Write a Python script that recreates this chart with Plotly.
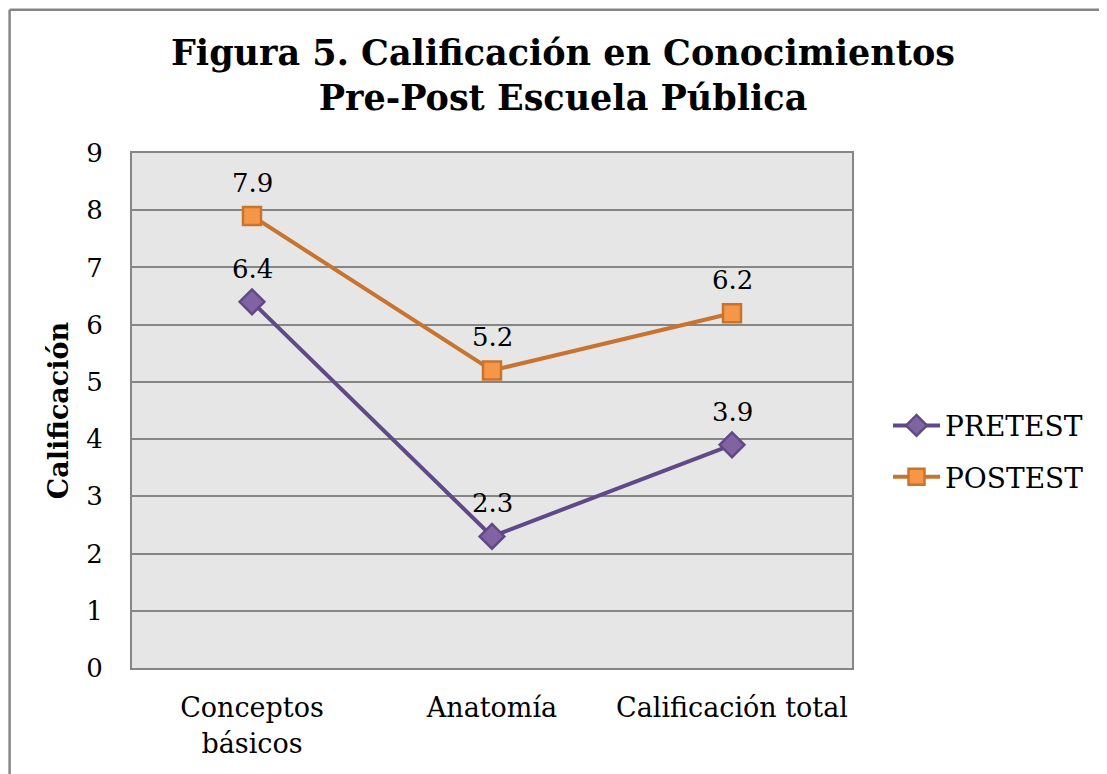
import plotly.graph_objects as go

# categories and scores
categorias = ["Conceptos básicos", "Anatomía", "Calificación total"]
etiquetas = ["Conceptos<br>básicos", "Anatomía", "Calificación total"]
pretest = [6.4, 2.3, 3.9]
postest = [7.9, 5.2, 6.2]

fuente = "DejaVu Serif"

fig = go.Figure()
fig.add_trace(go.Scatter(
    x=categorias, y=pretest, name="PRETEST", mode="lines+markers",
    legendgroup="pre",
    line=dict(color="#5f4a87", width=4),
    marker=dict(symbol="diamond", size=19, color="#8064a2",
                line=dict(color="#5f4a87", width=2.5)),
))
fig.add_trace(go.Scatter(
    x=categorias, y=postest, name="POSTEST", mode="lines+markers",
    legendgroup="post",
    line=dict(color="#c8742f", width=4),
    marker=dict(symbol="square", size=18, color="#f79646",
                line=dict(color="#c8742f", width=2.5)),
))

# data labels above each point
for serie in (pretest, postest):
    for c, v in zip(categorias, serie):
        fig.add_annotation(x=c, y=v, text=str(v), showarrow=False,
                           yshift=33, font=dict(family=fuente, size=26, color="black"))

# page body adds an 8px margin, so the figure is 8px smaller than the window
fig.update_layout(
    width=1099, height=766,
    margin=dict(l=124, r=255, t=145, b=106),
    paper_bgcolor="white", plot_bgcolor="#e6e6e6",
    font=dict(family=fuente, size=27, color="black"),
    title=dict(
        text="<b>Figura 5. Calificación en Conocimientos<br>Pre-Post Escuela Pública</b>",
        x=0.505, xanchor="center", xref="container",
        y=0.926, yanchor="top", yref="container",
        font=dict(family=fuente, size=35, color="black"),
    ),
    legend=dict(x=1.05, xanchor="left", y=0.421, yanchor="middle",
                font=dict(family=fuente, size=28), tracegroupgap=12,
                itemwidth=47, bgcolor="rgba(0,0,0,0)"),
    showlegend=True,
)
fig.update_xaxes(
    type="category", categoryarray=categorias, range=[-0.5, 2.5],
    tickvals=categorias, ticktext=etiquetas,
    showgrid=False, showline=True, linecolor="#868686", linewidth=2, mirror=True,
    ticks="", ticklabelstandoff=15, tickfont=dict(size=27),
)
fig.update_yaxes(
    range=[0, 9], dtick=1, showgrid=True, gridcolor="#868686", gridwidth=1.5,
    showline=True, linecolor="#868686", linewidth=2, mirror=True,
    zeroline=False, ticks="", ticklabelstandoff=22, tickfont=dict(size=26),
    title=dict(text="<b>Calificación</b>", font=dict(size=27), standoff=10),
)
# outer chart border (only top and left edges are visible in the crop)
fig.add_shape(type="line", xref="paper", yref="paper",
              x0=-0.170, x1=1.4, y0=1.278, y1=1.278,
              line=dict(color="#868686", width=2.5), layer="below")
fig.add_shape(type="line", xref="paper", yref="paper",
              x0=-0.170, x1=-0.170, y0=-0.3, y1=1.278,
              line=dict(color="#868686", width=2.5), layer="below")

fig.write_html("out.html")
